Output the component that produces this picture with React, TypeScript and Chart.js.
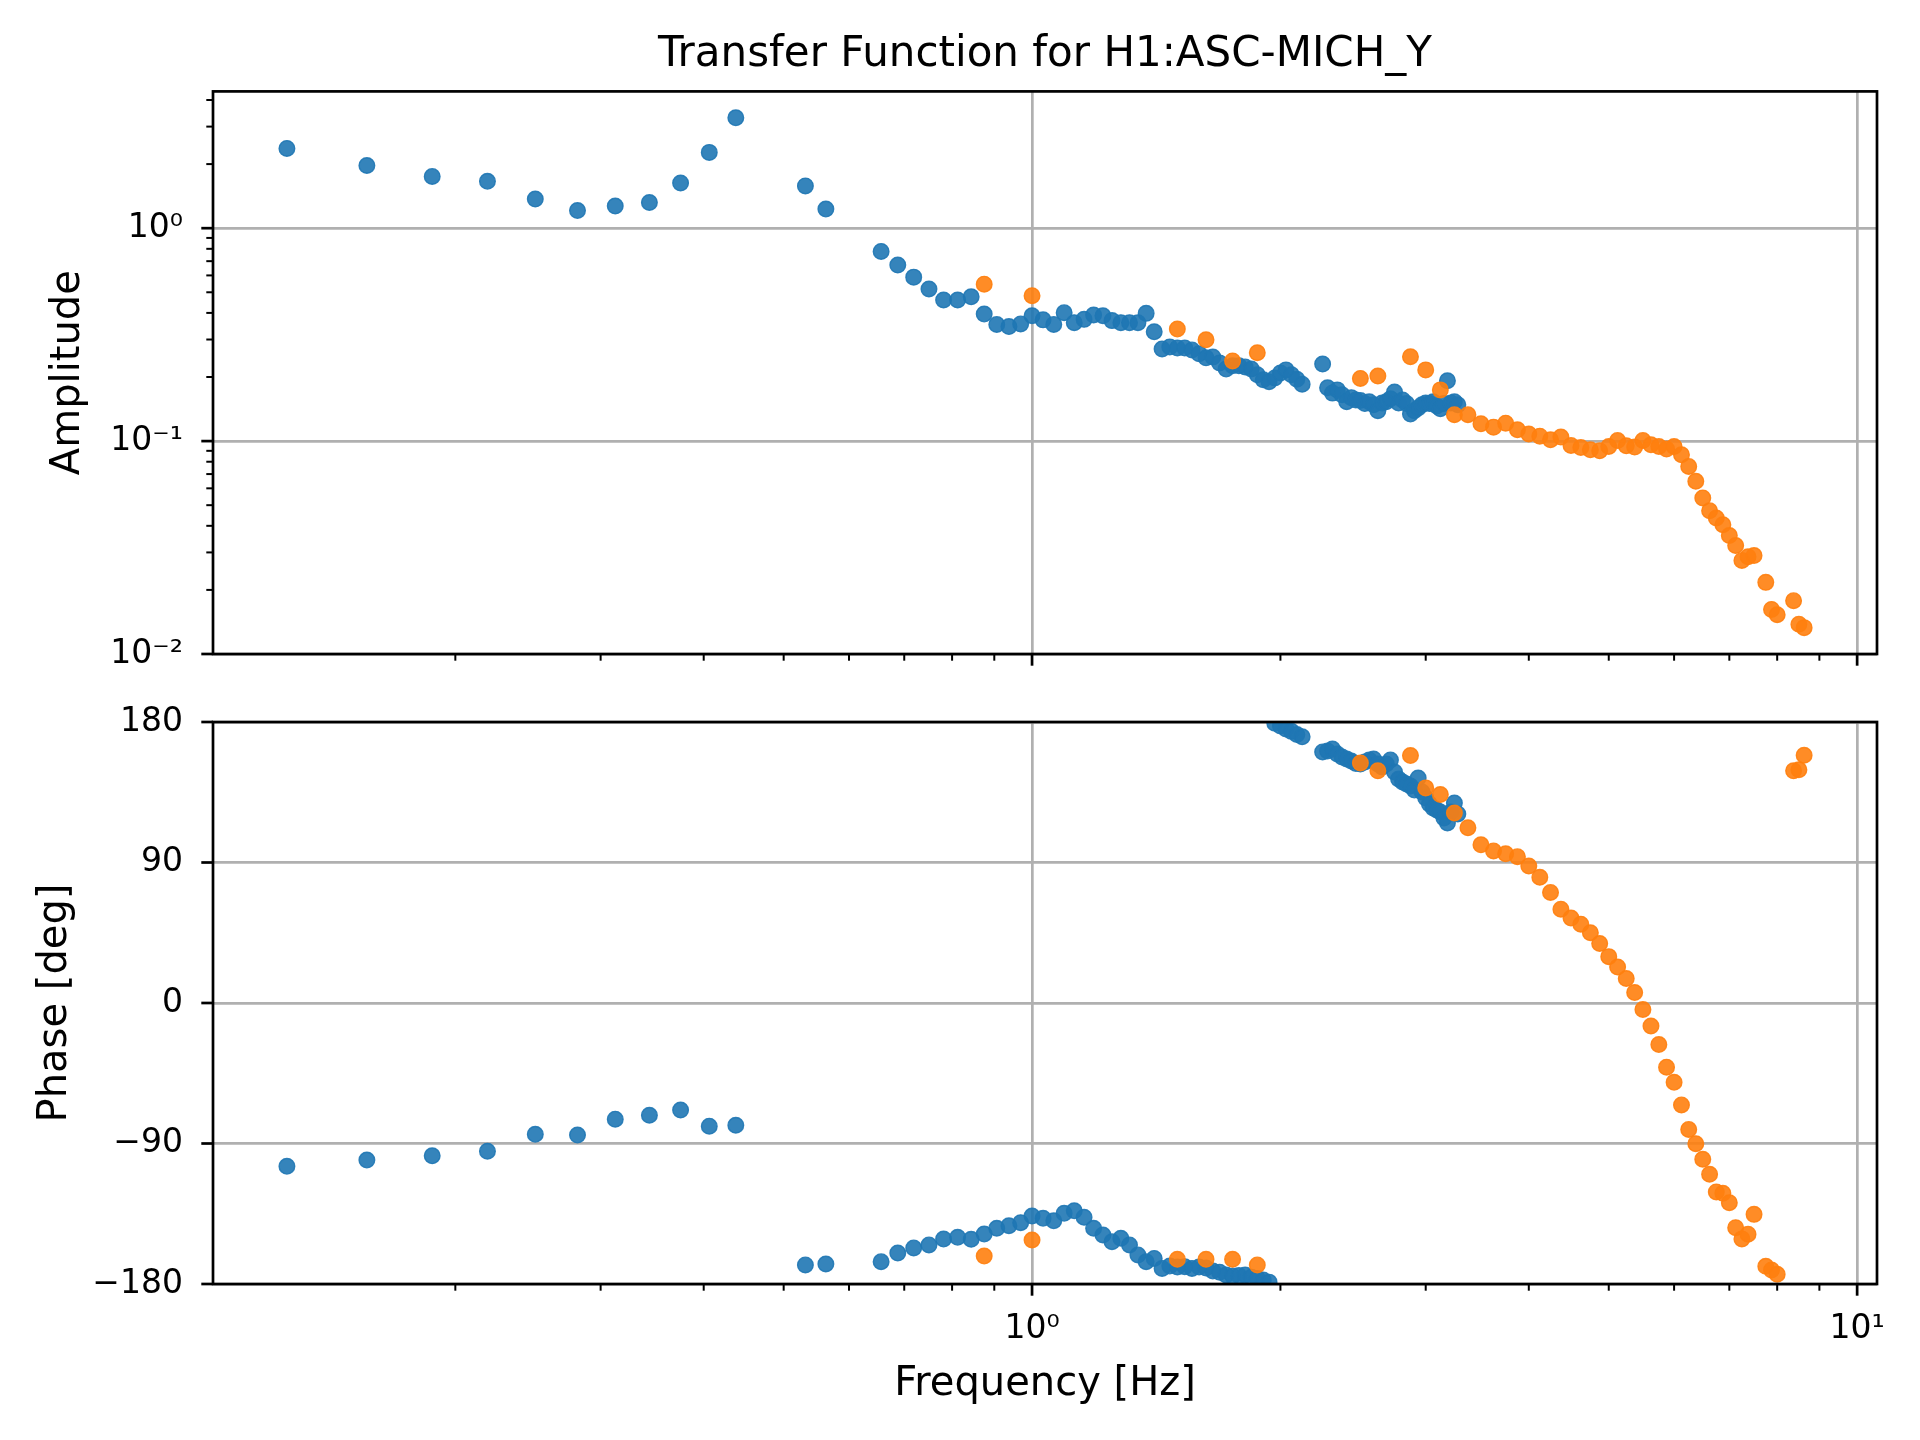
import { useEffect, useRef } from 'react';
import { Chart, registerables } from 'chart.js';

Chart.register(...registerables);
Chart.defaults.font.family = 'DejaVu Sans';
Chart.defaults.color = '#000';

// swept-sine points, blue = first measurement, orange = second
const blueFreq = [
  0.125, 0.15625, 0.1875, 0.21875, 0.25, 0.28125, 0.3125, 0.34375, 0.375, 0.40625, 0.4375,
  0.53125, 0.5625,
  0.65625, 0.6875, 0.71875, 0.75, 0.78125, 0.8125, 0.84375, 0.875, 0.90625, 0.9375,
  0.96875, 1.0, 1.03125, 1.0625, 1.09375, 1.125, 1.15625, 1.1875, 1.21875, 1.25,
  1.28125, 1.3125, 1.34375, 1.375, 1.40625, 1.4375, 1.46875, 1.5, 1.53125, 1.5625,
  1.59375, 1.625, 1.65625, 1.6875, 1.71875, 1.75, 1.78125, 1.8125, 1.84375, 1.875,
  1.90625, 1.9375, 1.96875, 2.0, 2.03125, 2.0625, 2.09375, 2.125,
  2.25, 2.28125, 2.3125, 2.34375, 2.375, 2.40625, 2.4375, 2.46875, 2.5, 2.53125,
  2.5625, 2.59375, 2.625, 2.65625, 2.6875, 2.71875, 2.75, 2.78125, 2.8125, 2.84375,
  2.875, 2.90625, 2.9375, 2.96875, 3.0, 3.03125, 3.0625, 3.09375, 3.125, 3.15625,
  3.1875, 3.21875, 3.25, 3.28125,
];
const blueAmp = [
  2.37, 1.97, 1.75, 1.66, 1.37, 1.21, 1.27, 1.32, 1.63, 2.27, 3.3,
  1.58, 1.23,
  0.778, 0.671, 0.589, 0.518, 0.46, 0.46, 0.476, 0.395, 0.353, 0.345,
  0.355, 0.388, 0.371, 0.353, 0.401, 0.36, 0.373, 0.391, 0.388, 0.368,
  0.36, 0.36, 0.36, 0.398, 0.326, 0.271, 0.277, 0.274, 0.274, 0.268,
  0.257, 0.246, 0.248, 0.233, 0.218, 0.226, 0.226, 0.223, 0.218, 0.205,
  0.194, 0.19, 0.198, 0.209, 0.216, 0.205, 0.195, 0.185,
  0.23, 0.178, 0.168, 0.174, 0.165, 0.153, 0.16, 0.156, 0.155, 0.15,
  0.153, 0.148, 0.139, 0.151, 0.153, 0.158, 0.17, 0.151, 0.156, 0.15,
  0.134, 0.139, 0.143, 0.148, 0.151, 0.15, 0.153, 0.146, 0.142, 0.15,
  0.192, 0.151, 0.153, 0.148,
];
const bluePhase = [
  -104.6, -100.6, -97.9, -94.9, -84.1, -84.6, -74.4, -71.9, -68.6, -78.9, -78.3,
  -167.8, -167.2,
  -165.7, -160.2, -156.9, -155.0, -151.2, -150.1, -151.4, -148.0, -144.3, -142.7,
  -140.7, -136.5, -137.9, -139.5, -134.7, -133.1, -137.3, -144.3, -148.6, -152.9,
  -150.7, -155.0, -161.4, -165.7, -163.6, -170.0, -168.5, -169.1, -168.9, -170.0,
  -169.1, -169.8, -171.7, -172.4, -174.3, -174.9, -174.6, -174.3, -175.6, -176.4,
  -177.5, -178.8, 179.2, 177.5, 175.5, 174.0, 172.0, 170.5,
  160.8, 161.4, 162.7, 159.5, 157.6, 156.3, 155.0, 153.4, 153.1, 154.4,
  155.7, 156.3, 153.1, 151.2, 153.1, 155.7, 148.0, 143.5, 141.6, 140.3,
  139.0, 136.4, 144.1, 135.2, 131.3, 127.5, 124.9, 123.6, 122.3, 118.5,
  115.3, 122.3, 128.1, 121.1,
];

const orangeFreq = [
  0.875, 1.0, 1.5, 1.625, 1.75, 1.875, 2.5, 2.625, 2.875, 3.0,
  3.125, 3.25, 3.375, 3.5, 3.625, 3.75, 3.875, 4.0, 4.125, 4.25,
  4.375, 4.5, 4.625, 4.75, 4.875, 5.0, 5.125, 5.25, 5.375, 5.5,
  5.625, 5.75, 5.875, 6.0, 6.125, 6.25, 6.375, 6.5, 6.625, 6.75,
  6.875, 7.0, 7.125, 7.25, 7.375, 7.5, 7.75, 7.875, 8.0, 8.375,
  8.5, 8.625,
];
const orangeAmp = [
  0.546, 0.482, 0.336, 0.299, 0.238, 0.26, 0.197, 0.202, 0.249, 0.216,
  0.174, 0.133, 0.133, 0.1205, 0.1163, 0.1214, 0.113, 0.108, 0.1055, 0.1014,
  0.1044, 0.0954, 0.0933, 0.091, 0.09, 0.0943, 0.1007, 0.095, 0.0937, 0.1007,
  0.0961, 0.0943, 0.0917, 0.0943, 0.0862, 0.076, 0.0647, 0.0541, 0.0471, 0.0435,
  0.0405, 0.036, 0.0323, 0.0275, 0.0286, 0.029, 0.0217, 0.0162, 0.0153, 0.0178,
  0.0138, 0.0133,
];
const orangePhase = [
  -162.1, -151.8, -164.2, -164.2, -164.2, -167.8, 153.8, 148.7, 158.5, 137.8,
  133.5, 121.7, 112.2, 101.3, 97.4, 95.6, 93.7, 87.7, 80.5, 70.8,
  60.1, 54.4, 50.5, 45.0, 38.1, 29.7, 23.0, 15.7, 6.7, -4.2,
  -14.8, -26.6, -41.1, -50.8, -65.3, -81.0, -90.1, -100.1, -109.7, -121.0,
  -121.9, -127.9, -143.9, -151.1, -148.1, -135.4, -168.7, -171.1, -173.8, 148.7,
  149.4, 158.7,
];

// axis limits and ticks
const freqMin = 0.1017;
const freqMax = 10.57;
const ampMin = 0.01;
const ampMax = 4.39;
const freqTicks = [1, 10];
const freqMinorTicks = [0.2, 0.3, 0.4, 0.5, 0.6, 0.7, 0.8, 0.9, 2, 3, 4, 5, 6, 7, 8, 9];
const ampTicks = [0.01, 0.1, 1];
const ampMinorTicks = [
  0.02, 0.03, 0.04, 0.05, 0.06, 0.07, 0.08, 0.09,
  0.2, 0.3, 0.4, 0.5, 0.6, 0.7, 0.8, 0.9, 2, 3, 4,
];
const phaseTicks = [-180, -90, 0, 90, 180];

const BLUE = 'rgba(31,119,180,0.9)';
const ORANGE = 'rgba(255,127,14,0.9)';
const GRID = '#b0b0b0';

const sup: Record<string, string> = {
  '-': '\u207b', '0': '\u2070', '1': '\u00b9', '2': '\u00b2', '3': '\u00b3',
};
const powLabel = (v: number) => {
  const e = Math.round(Math.log10(v));
  return '10' + String(e).split('').map((c) => sup[c]).join('');
};
const degLabel = (v: number) => (v < 0 ? '\u2212' + Math.abs(v) : String(v));

// spines and matplotlib-like outward tick marks
const framePlugin = {
  id: 'frame',
  afterDraw(chart: any, _args: any, opts: any) {
    const { ctx, chartArea: a } = chart;
    const xs = chart.scales.x;
    const ys = chart.scales.y;
    ctx.save();
    ctx.strokeStyle = '#000';
    const xt = (vals: number[], len: number, w: number) => {
      ctx.lineWidth = w;
      vals.forEach((v) => {
        const px = xs.getPixelForValue(v);
        if (px < a.left - 1 || px > a.right + 1) return;
        ctx.beginPath();
        ctx.moveTo(px, a.bottom);
        ctx.lineTo(px, a.bottom + len);
        ctx.stroke();
      });
    };
    const yt = (vals: number[], len: number, w: number) => {
      ctx.lineWidth = w;
      vals.forEach((v) => {
        const py = ys.getPixelForValue(v);
        if (py < a.top - 1 || py > a.bottom + 1) return;
        ctx.beginPath();
        ctx.moveTo(a.left, py);
        ctx.lineTo(a.left - len, py);
        ctx.stroke();
      });
    };
    xt(opts.xMajor, 11.7, 2.7);
    xt(opts.xMinor, 6.7, 2);
    yt(opts.yMajor, 11.7, 2.7);
    yt(opts.yMinor || [], 6.7, 2);
    ctx.lineWidth = 2.7;
    ctx.strokeRect(a.left, a.top, a.right - a.left, a.bottom - a.top);
    ctx.restore();
  },
};

const pointStyle = (color: string) => ({
  backgroundColor: color,
  borderColor: color,
  borderWidth: 1.4,
  pointRadius: 7.8,
  pointHoverRadius: 7.8,
  showLine: false,
  clip: 0,
});

const freqAxis = (height: number, withLabels: boolean) => ({
  type: 'logarithmic',
  min: freqMin,
  max: freqMax,
  afterBuildTicks: (s: any) => {
    s.ticks = freqTicks.map((v) => ({ value: v }));
  },
  afterFit: (s: any) => {
    s.height = height;
  },
  grid: { color: GRID, lineWidth: 2.7, drawTicks: false },
  border: { display: false },
  ticks: {
    display: withLabels,
    padding: 26,
    autoSkip: false,
    maxRotation: 0,
    font: { size: 33 },
    callback: (v: any) => powLabel(Number(v)),
  },
  title: {
    display: withLabels,
    text: 'Frequency [Hz]',
    font: { size: 40 },
    padding: { top: 0, bottom: 31 },
  },
});

// y label offset comes from an invisible tick length, so the label padding stays small
const yGrid = { color: GRID, lineWidth: 2.7, drawTicks: true, tickLength: 20, tickColor: 'rgba(0,0,0,0)' };

export default function App() {
  const ampRef = useRef<HTMLCanvasElement>(null);
  const phaseRef = useRef<HTMLCanvasElement>(null);

  useEffect(() => {
    const ampChart = new Chart(ampRef.current as HTMLCanvasElement, {
      type: 'scatter',
      data: {
        datasets: [
          { ...pointStyle(ORANGE), order: 0, data: orangeFreq.map((f, i) => ({ x: f, y: orangeAmp[i] })) },
          { ...pointStyle(BLUE), order: 1, data: blueFreq.map((f, i) => ({ x: f, y: blueAmp[i] })) },
        ],
      },
      options: {
        animation: false,
        responsive: false,
        devicePixelRatio: 1,
        layout: { padding: { left: 0, right: 43, top: 0, bottom: 0 } },
        scales: {
          x: freqAxis(36, false) as any,
          y: {
            type: 'logarithmic',
            min: ampMin,
            max: ampMax,
            afterBuildTicks: (s: any) => {
              s.ticks = ampTicks.map((v) => ({ value: v }));
            },
            afterFit: (s: any) => {
              s.width = 213;
            },
            grid: yGrid,
            border: { display: false },
            ticks: { padding: 10, font: { size: 33 }, callback: (v: any) => powLabel(Number(v)) },
            title: { display: true, text: 'Amplitude', font: { size: 40 }, padding: { top: 45, bottom: 0 } },
          },
        },
        plugins: {
          legend: { display: false },
          tooltip: { enabled: false },
          title: {
            display: true,
            text: 'Transfer Function for H1:ASC-MICH_Y',
            fullSize: false,
            color: '#000',
            font: { size: 42, weight: 'normal' },
            padding: { top: 30, bottom: 11 },
          },
          frame: { xMajor: freqTicks, xMinor: freqMinorTicks, yMajor: ampTicks, yMinor: ampMinorTicks },
        } as any,
      },
      plugins: [framePlugin],
    });

    const phaseChart = new Chart(phaseRef.current as HTMLCanvasElement, {
      type: 'scatter',
      data: {
        datasets: [
          { ...pointStyle(ORANGE), order: 0, data: orangeFreq.map((f, i) => ({ x: f, y: orangePhase[i] })) },
          { ...pointStyle(BLUE), order: 1, data: blueFreq.map((f, i) => ({ x: f, y: bluePhase[i] })) },
        ],
      },
      options: {
        animation: false,
        responsive: false,
        devicePixelRatio: 1,
        layout: { padding: { left: 0, right: 43, top: 32, bottom: 0 } },
        scales: {
          x: freqAxis(156, true) as any,
          y: {
            type: 'linear',
            min: -180,
            max: 180,
            afterBuildTicks: (s: any) => {
              s.ticks = phaseTicks.map((v) => ({ value: v }));
            },
            afterFit: (s: any) => {
              s.width = 213;
            },
            grid: yGrid,
            border: { display: false },
            ticks: { padding: 10, font: { size: 33 }, callback: (v: any) => degLabel(Number(v)) },
            title: { display: true, text: 'Phase [deg]', font: { size: 40 }, padding: { top: 32, bottom: 0 } },
          },
        },
        plugins: {
          legend: { display: false },
          tooltip: { enabled: false },
          frame: { xMajor: freqTicks, xMinor: freqMinorTicks, yMajor: phaseTicks },
        } as any,
      },
      plugins: [framePlugin],
    });

    return () => {
      ampChart.destroy();
      phaseChart.destroy();
    };
  }, []);

  return (
    <div style={{ position: 'absolute', left: 0, top: 0, width: 1920, height: 1440, background: '#fff' }}>
      <canvas
        ref={ampRef}
        width={1920}
        height={690}
        style={{ position: 'absolute', left: 0, top: 0, width: 1920, height: 690 }}
      />
      <canvas
        ref={phaseRef}
        width={1920}
        height={750}
        style={{ position: 'absolute', left: 0, top: 690, width: 1920, height: 750 }}
      />
    </div>
  );
}
